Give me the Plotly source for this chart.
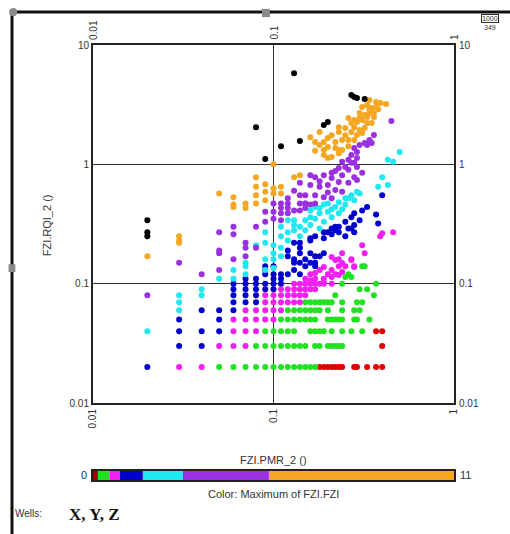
import math
import plotly.graph_objects as go

# ---------------- data (x = FZI.PMR_2, y = FZI.RQI_2), grouped by colour class ----------------
BLACK = [(0.02, 0.34), (0.02, 0.27), (0.02, 0.25), (0.08, 2.05), (0.09, 1.11), (0.11, 1.42),
         (0.14, 1.57), (0.19, 2.14), (0.20, 2.26), (0.27, 3.81), (0.28, 3.66), (0.29, 3.59),
         (0.32, 3.53), (0.13, 5.80)]

ORANGE = [(0.34, 3.46), (0.37, 3.33), (0.39, 3.26), (0.42, 3.20), (0.31, 3.02), (0.33, 3.14),
          (0.35, 2.96), (0.37, 3.02), (0.30, 2.69), (0.32, 2.59), (0.34, 2.69), (0.36, 2.49),
          (0.26, 2.44), (0.27, 2.22), (0.29, 2.26), (0.31, 2.35), (0.33, 2.22), (0.35, 2.22),
          (0.23, 2.05), (0.25, 2.02), (0.28, 2.05), (0.30, 1.94), (0.32, 2.02), (0.27, 1.87),
          (0.29, 1.76), (0.31, 1.83), (0.23, 1.87), (0.18, 1.87), (0.20, 1.66), (0.16, 1.69),
          (0.17, 1.54), (0.19, 1.54), (0.22, 1.54), (0.26, 1.60), (0.19, 1.32), (0.20, 1.40),
          (0.22, 1.37), (0.23, 1.32), (0.24, 1.32), (0.26, 1.42), (0.19, 1.20), (0.20, 1.13),
          (0.21, 1.15), (0.23, 1.24), (0.28, 2.35), (0.33, 2.49), (0.36, 2.69), (0.38, 2.90),
          (0.30, 2.45), (0.34, 2.90), (0.25, 1.75), (0.21, 1.75), (0.24, 1.60), (0.28, 1.60),
          (0.17, 1.30), (0.18, 1.45),
          (0.10, 1.00), (0.08, 0.78), (0.08, 0.65), (0.08, 0.55), (0.08, 0.47), (0.09, 0.68),
          (0.09, 0.59), (0.09, 0.50), (0.10, 0.63), (0.10, 0.57), (0.05, 0.57), (0.06, 0.53),
          (0.06, 0.46), (0.06, 0.44), (0.07, 0.47), (0.07, 0.43), (0.03, 0.23), (0.03, 0.25),
          (0.03, 0.22), (0.02, 0.17), (0.11, 0.65), (0.11, 0.57), (0.13, 0.78), (0.14, 0.81)]

PURPLE = [(0.45, 2.31), (0.36, 1.76), (0.34, 1.60), (0.32, 1.51), (0.30, 1.45), (0.33, 1.45),
          (0.35, 1.51), (0.28, 1.37), (0.29, 1.27), (0.27, 1.20), (0.29, 1.13), (0.26, 1.09),
          (0.27, 1.03), (0.24, 1.05), (0.28, 1.03), (0.29, 0.95), (0.31, 0.85), (0.23, 0.93),
          (0.26, 0.90), (0.21, 0.85), (0.24, 0.81), (0.28, 0.78), (0.29, 0.74), (0.16, 0.81),
          (0.17, 0.78), (0.19, 0.81), (0.21, 0.77), (0.23, 0.71), (0.26, 0.70), (0.14, 0.70),
          (0.16, 0.67), (0.18, 0.65), (0.20, 0.67), (0.22, 0.61), (0.24, 0.59), (0.14, 0.55),
          (0.15, 0.55), (0.17, 0.55), (0.19, 0.53), (0.21, 0.52), (0.16, 0.46), (0.17, 0.47),
          (0.15, 0.47), (0.10, 0.47), (0.11, 0.47), (0.11, 0.43), (0.10, 0.40), (0.10, 0.35),
          (0.11, 0.34), (0.11, 0.39), (0.12, 0.47), (0.12, 0.43), (0.12, 0.39), (0.13, 0.41),
          (0.14, 0.41), (0.14, 0.47), (0.15, 0.43), (0.15, 0.47), (0.09, 0.40), (0.09, 0.33),
          (0.05, 0.27), (0.06, 0.30), (0.06, 0.26), (0.07, 0.22), (0.07, 0.20), (0.07, 0.17),
          (0.05, 0.19), (0.05, 0.18), (0.05, 0.13), (0.06, 0.16), (0.03, 0.15), (0.04, 0.12),
          (0.08, 0.30), (0.08, 0.20), (0.02, 0.08), (0.13, 0.60), (0.18, 0.72), (0.20, 0.58),
          (0.25, 0.95), (0.22, 0.88), (0.12, 0.52)]

CYAN = [(0.13, 0.34), (0.13, 0.31), (0.13, 0.28), (0.29, 0.59), (0.30, 0.57), (0.27, 0.55),
        (0.26, 0.52), (0.28, 0.50), (0.23, 0.48), (0.25, 0.46), (0.22, 0.44), (0.20, 0.47),
        (0.19, 0.46), (0.17, 0.44), (0.16, 0.41), (0.20, 0.40), (0.18, 0.39), (0.23, 0.39),
        (0.21, 0.36), (0.17, 0.35), (0.16, 0.36), (0.15, 0.34), (0.19, 0.33), (0.16, 0.31),
        (0.14, 0.30), (0.18, 0.29), (0.15, 0.28), (0.14, 0.25), (0.40, 0.78), (0.43, 0.67),
        (0.38, 0.65), (0.43, 1.09), (0.46, 1.05), (0.50, 1.27), (0.12, 0.34), (0.11, 0.30),
        (0.12, 0.27), (0.11, 0.25), (0.12, 0.23), (0.10, 0.21), (0.11, 0.20), (0.10, 0.18),
        (0.11, 0.17), (0.10, 0.16), (0.10, 0.135), (0.09, 0.16), (0.09, 0.13), (0.08, 0.21),
        (0.07, 0.15), (0.07, 0.14), (0.07, 0.12), (0.05, 0.11), (0.06, 0.11), (0.02, 0.04),
        (0.03, 0.06), (0.03, 0.07), (0.03, 0.08), (0.04, 0.08), (0.04, 0.09), (0.06, 0.13),
        (0.09, 0.27), (0.09, 0.22), (0.25, 0.52), (0.21, 0.42), (0.24, 0.42), (0.18, 0.43)]

BLUE = [(0.40, 0.55), (0.37, 0.38), (0.38, 0.32), (0.33, 0.44), (0.31, 0.41), (0.28, 0.39),
        (0.27, 0.36), (0.30, 0.34), (0.25, 0.33), (0.28, 0.31), (0.26, 0.29), (0.23, 0.30),
        (0.22, 0.28), (0.21, 0.29), (0.20, 0.27), (0.19, 0.27), (0.17, 0.25), (0.16, 0.24),
        (0.19, 0.24), (0.21, 0.26), (0.23, 0.27), (0.25, 0.25), (0.14, 0.20), (0.14, 0.18),
        (0.15, 0.16), (0.16, 0.18), (0.17, 0.17), (0.18, 0.17), (0.17, 0.15), (0.15, 0.14),
        (0.14, 0.15), (0.12, 0.19), (0.12, 0.17), (0.13, 0.15), (0.13, 0.13), (0.14, 0.12),
        (0.12, 0.12), (0.11, 0.11), (0.10, 0.11), (0.09, 0.13), (0.09, 0.12), (0.09, 0.10),
        (0.08, 0.11), (0.07, 0.11), (0.09, 0.14), (0.10, 0.14), (0.10, 0.12), (0.11, 0.12),
        (0.11, 0.10), (0.13, 0.16), (0.16, 0.15), (0.17, 0.14), (0.19, 0.18), (0.22, 0.30),
        (0.27, 0.29), (0.28, 0.27), (0.16, 0.23), (0.14, 0.22), (0.13, 0.22),
        (0.02, 0.02), (0.03, 0.03), (0.03, 0.04), (0.03, 0.05), (0.04, 0.03), (0.04, 0.04),
        (0.04, 0.06), (0.05, 0.04), (0.05, 0.05), (0.05, 0.06), (0.06, 0.06), (0.06, 0.07),
        (0.06, 0.08), (0.06, 0.09), (0.06, 0.10), (0.07, 0.07), (0.07, 0.08), (0.07, 0.09),
        (0.07, 0.10), (0.08, 0.07), (0.08, 0.08), (0.08, 0.09), (0.08, 0.10), (0.09, 0.09),
        (0.10, 0.09), (0.10, 0.10)]

MAGENTA = [(0.46, 0.27), (0.40, 0.265), (0.39, 0.25), (0.31, 0.21), (0.32, 0.18), (0.24, 0.18),
           (0.27, 0.16), (0.28, 0.14), (0.23, 0.16), (0.23, 0.14), (0.21, 0.13), (0.20, 0.12),
           (0.19, 0.11), (0.17, 0.11), (0.16, 0.12), (0.15, 0.11), (0.21, 0.167), (0.22, 0.158),
           (0.24, 0.149), (0.27, 0.158), (0.28, 0.138), (0.19, 0.138), (0.17, 0.123), (0.21, 0.114),
           (0.23, 0.118), (0.16, 0.107), (0.19, 0.103), (0.21, 0.10), (0.24, 0.125), (0.18, 0.13),
           (0.25, 0.14), (0.22, 0.12),
           (0.13, 0.10), (0.14, 0.10), (0.15, 0.10), (0.16, 0.10), (0.17, 0.10), (0.18, 0.10),
           (0.19, 0.10), (0.11, 0.09), (0.12, 0.09), (0.13, 0.09), (0.14, 0.09),
           (0.15, 0.09), (0.16, 0.09), (0.17, 0.09), (0.09, 0.08), (0.10, 0.08), (0.11, 0.08),
           (0.12, 0.08), (0.13, 0.08), (0.14, 0.08), (0.15, 0.08), (0.09, 0.07), (0.10, 0.07),
           (0.11, 0.07), (0.12, 0.07), (0.13, 0.07), (0.14, 0.07), (0.07, 0.06), (0.08, 0.06),
           (0.09, 0.06), (0.10, 0.06), (0.11, 0.06), (0.06, 0.05), (0.07, 0.05), (0.08, 0.05),
           (0.09, 0.05), (0.10, 0.05), (0.06, 0.04), (0.07, 0.04), (0.08, 0.04), (0.05, 0.03),
           (0.06, 0.03), (0.07, 0.03), (0.03, 0.02), (0.04, 0.02)]

GREEN = [(0.05, 0.02), (0.06, 0.02), (0.07, 0.02), (0.08, 0.02), (0.09, 0.02), (0.10, 0.02),
         (0.11, 0.02), (0.12, 0.02), (0.13, 0.02), (0.14, 0.02), (0.15, 0.02), (0.16, 0.02),
         (0.17, 0.02),
         (0.08, 0.03), (0.09, 0.03), (0.10, 0.03), (0.11, 0.03), (0.12, 0.03), (0.13, 0.03),
         (0.14, 0.03), (0.15, 0.03), (0.17, 0.03), (0.18, 0.03), (0.20, 0.03), (0.21, 0.03),
         (0.22, 0.03), (0.23, 0.03), (0.24, 0.03),
         (0.09, 0.04), (0.10, 0.04), (0.11, 0.04), (0.12, 0.04), (0.13, 0.04), (0.16, 0.04),
         (0.17, 0.04), (0.18, 0.04), (0.19, 0.04), (0.21, 0.04), (0.24, 0.04), (0.27, 0.04),
         (0.31, 0.04),
         (0.11, 0.05), (0.12, 0.05), (0.13, 0.05), (0.14, 0.05), (0.15, 0.05), (0.16, 0.05),
         (0.17, 0.05), (0.20, 0.05), (0.21, 0.05), (0.22, 0.05), (0.23, 0.05), (0.24, 0.05),
         (0.28, 0.05), (0.29, 0.05), (0.34, 0.05),
         (0.12, 0.06), (0.13, 0.06), (0.14, 0.06), (0.15, 0.06), (0.16, 0.06), (0.17, 0.06),
         (0.18, 0.06), (0.20, 0.06), (0.24, 0.06), (0.28, 0.06), (0.30, 0.06),
         (0.15, 0.07), (0.16, 0.07), (0.17, 0.07), (0.18, 0.07), (0.19, 0.07), (0.20, 0.07),
         (0.21, 0.07), (0.24, 0.07), (0.29, 0.07), (0.31, 0.07),
         (0.22, 0.08), (0.36, 0.08), (0.30, 0.09), (0.33, 0.09), (0.24, 0.10), (0.37, 0.10),
         (0.25, 0.114), (0.27, 0.114), (0.26, 0.12), (0.31, 0.14), (0.32, 0.14)]

RED = [(0.18, 0.02), (0.19, 0.02), (0.20, 0.02), (0.21, 0.02), (0.22, 0.02), (0.23, 0.02),
       (0.24, 0.02), (0.28, 0.02), (0.29, 0.02), (0.33, 0.02), (0.37, 0.02), (0.40, 0.02),
       (0.40, 0.03), (0.37, 0.04), (0.40, 0.04)]

GROUPS = [("red", RED, "#E00000"), ("green", GREEN, "#22E022"), ("magenta", MAGENTA, "#F020F0"),
          ("blue", BLUE, "#0000CC"), ("cyan", CYAN, "#20E8F0"), ("purple", PURPLE, "#9A30E0"),
          ("orange", ORANGE, "#F5A623"), ("black", BLACK, "#000000")]

# colour scale of "Maximum of FZI.FZI"
CBAR_BOUNDS = [0, 0.15, 0.5, 0.82, 1.52, 2.74, 5.36, 11]
CBAR_COLORS = ["#A00000", "#22E022", "#F020F0", "#0000CC", "#20E8F0", "#9A30E0", "#F5A623"]

X_TICKS = [0.01, 0.1, 1]
X_TICKTEXT = ["0.01", "0.1", "1"]
Y_TICKS = [0.01, 0.1, 1, 10]
Y_TICKTEXT = ["0.01", "0.1", "1", "10"]

FONT = "Liberation Sans, Arial, sans-serif"
TXT = "#333333"

fig = go.Figure()
for name, pts, col in GROUPS:
    fig.add_trace(go.Scatter(
        x=[p[0] for p in pts], y=[p[1] for p in pts], mode="markers", name=name,
        marker=dict(color=col, size=6, line=dict(width=0)),
        xaxis="x", yaxis="y", hoverinfo="skip"))

for i, col in enumerate(CBAR_COLORS):
    fig.add_trace(go.Bar(
        orientation="h", y=[0], x=[CBAR_BOUNDS[i + 1] - CBAR_BOUNDS[i]], base=[CBAR_BOUNDS[i]],
        width=1, marker=dict(color=col, line=dict(width=0)), xaxis="x2", yaxis="y2",
        hoverinfo="skip"))

Y_DOM0 = 0.177


def note(x, y, text, size=11, xref="paper", yref="paper", **kw):
    d = dict(x=x, y=y, xref=xref, yref=yref, text=text, showarrow=False,
             xanchor="center", yanchor="middle",
             font=dict(family=FONT, size=size, color=TXT))
    d.update(kw)
    return d


annotations = []
# top tick labels
for v, t in zip(X_TICKS, X_TICKTEXT):
    annotations.append(note(math.log10(v), 1, t, size=10, xref="x", textangle=-90,
                            yanchor="bottom", yshift=3))
# right tick labels
for v, t in zip(Y_TICKS, Y_TICKTEXT):
    annotations.append(note(1, math.log10(v), t, size=10, yref="y", xanchor="left", xshift=3))

annotations += [
    note(0.5, 0.046, "FZI.PMR_2 ()"),
    note(-0.127, 0.586, "FZI.RQI_2 ()", textangle=-90),
    note(CBAR_BOUNDS[0], 0, str(CBAR_BOUNDS[0]), xref="x2", yref="y2", xanchor="right", xshift=-4),
    note(CBAR_BOUNDS[-1], 0, str(CBAR_BOUNDS[-1]), xref="x2", yref="y2", xanchor="left", xshift=4),
    note(0.5, -0.032, "Color: Maximum of FZI.FZI"),
    note(-0.222, -0.076, "Wells:", size=10, xanchor="left"),
    note(-0.072, -0.080, "<b>X, Y, Z</b>", xanchor="left",
         font=dict(family="Liberation Serif, Times New Roman, serif", size=17, color="#111111")),
    note(1.1, 1.062, "1000", size=7, bordercolor="#333", borderwidth=1, borderpad=0),
    note(1.1, 1.040, "349", size=7),
]

shapes = [
    dict(type="line", xref="paper", yref="paper", x0=-0.2244, x1=-0.2244, y0=-0.13, y1=1.0759,
         line=dict(color="#111111", width=3)),
    dict(type="line", xref="paper", yref="paper", x0=-0.2244, x1=1.16, y0=1.0759, y1=1.0759,
         line=dict(color="#111111", width=3)),
    dict(type="rect", xref="paper", yref="paper", x0=0.468, x1=0.490, y0=1.064, y1=1.083,
         fillcolor="#8a8a8a", line=dict(width=0)),
    dict(type="circle", xref="paper", yref="paper", x0=-0.232, x1=-0.210, y0=1.066, y1=1.085,
         fillcolor="#8a8a8a", line=dict(width=0)),
    dict(type="rect", xref="paper", yref="paper", x0=-0.234, x1=-0.215, y0=0.478, y1=0.496,
         fillcolor="#8a8a8a", line=dict(width=0)),
]

axis_common = dict(showline=True, mirror=True, linecolor="#222222", linewidth=2, zeroline=False,
                   ticks="", tickfont=dict(family=FONT, size=10, color=TXT))

fig.update_layout(
    width=510, height=534,
    margin=dict(l=93, r=56, t=45, b=54, pad=0),
    paper_bgcolor="white", plot_bgcolor="white",
    showlegend=False, barmode="overlay",
    xaxis=dict(type="log", range=[-2, 0], domain=[0, 1], anchor="y",
               tickvals=X_TICKS, ticktext=X_TICKTEXT, tickangle=-90,
               showgrid=True, gridcolor="#333333", gridwidth=1.2, **axis_common),
    yaxis=dict(type="log", range=[-2, 1], domain=[Y_DOM0, 1], anchor="x",
               tickvals=Y_TICKS, ticktext=Y_TICKTEXT,
               showgrid=True, gridcolor="#333333", gridwidth=1.2, **axis_common),
    xaxis2=dict(range=[CBAR_BOUNDS[0], CBAR_BOUNDS[-1]], domain=[0, 1], anchor="y2",
                showline=True, mirror=True, linecolor="#222222", linewidth=1.5,
                showgrid=False, zeroline=False, showticklabels=False, ticks=""),
    yaxis2=dict(range=[-0.5, 0.5], domain=[0, 0.0207], anchor="x2",
                showline=True, mirror=True, linecolor="#222222", linewidth=1.5,
                showgrid=False, zeroline=False, showticklabels=False, ticks=""),
    annotations=annotations, shapes=shapes,
)

fig.write_html("out.html")
